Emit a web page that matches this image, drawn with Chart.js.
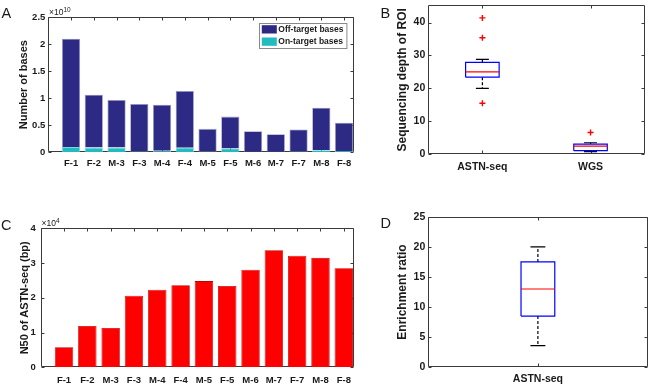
<!DOCTYPE html>
<html>
<head>
<meta charset="utf-8">
<script src="https://cdn.jsdelivr.net/npm/chart.js@4.4.1/dist/chart.umd.min.js"></script>
<style>
  body { margin: 0; background: #fff; width: 650px; height: 386px; position: relative; overflow: hidden;
         font-family: "Liberation Sans", Arial, sans-serif; color: #1a1a1a; }
  canvas { position: absolute; }
  .tag { position: absolute; font-size: 14.5px; line-height: 1; }
  .exp { position: absolute; font-size: 8.5px; line-height: 1; white-space: nowrap; }
  .exp span { font-size: 6.5px; position: relative; top: -3px; }
</style>
</head>
<body>
<canvas id="chartA" width="362" height="180" style="left:0;top:0"></canvas>
<canvas id="chartB" width="280" height="180" style="left:370px;top:0"></canvas>
<canvas id="chartC" width="362" height="191" style="left:0;top:195px"></canvas>
<canvas id="chartD" width="280" height="191" style="left:370px;top:195px"></canvas>

<div class="tag" style="left:1.5px;top:6.4px">A</div>
<div class="tag" style="left:380.5px;top:6.4px">B</div>
<div class="tag" style="left:1px;top:218px">C</div>
<div class="tag" style="left:380.5px;top:216px">D</div>
<div class="exp" style="left:49px;top:7.5px">×10<span>10</span></div>
<div class="exp" style="left:41.5px;top:218.5px">×10<span>4</span></div>

<script>
// samples, shared by A and C
var samples = ['F-1', 'F-2', 'M-3', 'F-3', 'M-4', 'F-4', 'M-5', 'F-5', 'M-6', 'M-7', 'F-7', 'M-8', 'F-8'];

// A: number of bases
var offTargetBases = [2.002e10, 0.977e10, 0.879e10, 0.878e10, 0.852e10, 1.049e10, 0.418e10,
                      0.590e10, 0.380e10, 0.324e10, 0.405e10, 0.785e10, 0.520e10];
var onTargetBases = [0.098e10, 0.087e10, 0.087e10, 0.015e10, 0.028e10, 0.083e10, 0.015e10,
                     0.070e10, 0.010e10, 0.010e10, 0.015e10, 0.040e10, 0.025e10];

// C: N50 of ASTN-seq (bp)
var n50 = [5760, 11900, 11300, 20600, 22350, 23600, 24800, 23400, 28100, 33700, 32100, 31500, 28500];

// B: sequencing depth of ROI (box stats)
var depthGroups = ['ASTN-seq', 'WGS'];
var depthLow = [20.0, 0.8];
var depthQ1 = [23.4, 1.1];
var depthMed = [25.0, 2.5];
var depthQ3 = [27.9, 3.1];
var depthHigh = [28.8, 3.5];
var depthOutliers = [[41.4, 35.4, 15.5], [6.6]];

// D: enrichment ratio
var ratioGroups = ['ASTN-seq'];
var ratioLow = [3.6];
var ratioQ1 = [8.5];
var ratioMed = [13.0];
var ratioQ3 = [17.5];
var ratioHigh = [20.0];
var ratioOutliers = [[]];

var axisColor = '#3a3a3a';
var textColor = '#1a1a1a';
var FONT = '"Liberation Sans", Arial, sans-serif';
var noGrid = { display: false, drawTicks: false, tickLength: 0 };

// matlab style box + inward ticks, drawn below the data
var frame = {
    id: 'frame',
    beforeDatasetsDraw(chart) {
        var ctx = chart.ctx, a = chart.chartArea;
        var x = chart.scales.x, y = chart.scales.y;
        var L = Math.round(a.left) + 0.5, R = Math.round(a.right) - 0.5;
        var T = Math.round(a.top) + 0.5, B = Math.round(a.bottom) - 0.5;
        ctx.save();
        ctx.strokeStyle = axisColor;
        ctx.lineWidth = 1;
        ctx.beginPath();
        ctx.rect(L, T, R - L, B - T);
        for (var i = 0; i < x.ticks.length; i++) {
            var px = Math.round(x.getPixelForTick(i)) + 0.5;
            ctx.moveTo(px, B); ctx.lineTo(px, B - 3);
            ctx.moveTo(px, T); ctx.lineTo(px, T + 3);
        }
        for (var j = 0; j < y.ticks.length; j++) {
            var py = Math.round(y.getPixelForTick(j)) + 0.5;
            ctx.moveTo(L, py); ctx.lineTo(L + 3, py);
            ctx.moveTo(R, py); ctx.lineTo(R - 3, py);
        }
        ctx.stroke();
        ctx.restore();
    }
};

// legend box inside panel A (top right)
var legendBox = {
    id: 'legendBox',
    afterDraw(chart) {
        var ctx = chart.ctx, a = chart.chartArea;
        var w = 87.4, h = 25;
        var left = a.right - 7.6 - w, top = a.top + 5.7;
        ctx.save();
        ctx.fillStyle = '#fff';
        ctx.fillRect(left, top, w, h);
        ctx.strokeStyle = '#8a8a8a';
        ctx.lineWidth = 1;
        ctx.strokeRect(Math.round(left) + 0.5, Math.round(top) + 0.5, w, h);
        var items = chart.data.datasets.slice().reverse();
        ctx.font = 'bold 8.5px ' + FONT;
        ctx.textBaseline = 'middle';
        for (var i = 0; i < items.length; i++) {
            var yy = top + 2.5 + i * 12.3;
            ctx.fillStyle = items[i].backgroundColor;
            ctx.fillRect(left + 2.5, yy, 15, 8.3);
            ctx.fillStyle = textColor;
            ctx.fillText(items[i].label, left + 19, yy + 4.4);
        }
        ctx.restore();
    }
};

function tickFont(size) {
    return { family: FONT, size: size, weight: 'bold' };
}

function sampleAxis(xHeight, pad) {
    return {
        type: 'linear', min: 0, max: 13.45, offset: false, stacked: true,
        grid: noGrid, border: { display: false },
        afterBuildTicks: function (s) { s.ticks = samples.map(function (c, i) { return { value: i + 1 }; }); },
        ticks: {
            autoSkip: false, maxRotation: 0, padding: pad, color: textColor, font: tickFont(9.5),
            callback: function (v) { return samples[v - 1]; }
        },
        afterFit: function (s) { s.height = xHeight; s.paddingLeft = 0; s.paddingRight = 0; }
    };
}

function xy(values) {
    return values.map(function (v, i) { return { x: i + 1, y: v }; });
}

// A
new Chart(document.getElementById('chartA'), {
    type: 'bar',
    data: {
        datasets: [
            { label: 'On-target bases', data: xy(onTargetBases), backgroundColor: '#22bcc0',
              borderColor: '#7fd6d8', borderWidth: 0.8, barPercentage: 0.8, categoryPercentage: 1 },
            { label: 'Off-target bases', data: xy(offTargetBases), backgroundColor: '#2d2a85',
              borderColor: '#9a98c8', borderWidth: 0.8, barPercentage: 0.8, categoryPercentage: 1 }
        ]
    },
    options: {
        responsive: false, animation: false, events: [],
        layout: { padding: { left: 17.1, top: 17, right: 7.7, bottom: 0 } },
        plugins: { legend: { display: false }, tooltip: { enabled: false } },
        scales: {
            x: sampleAxis(27.7, 5.5),
            y: {
                min: 0, max: 2.5e10, stacked: true,
                grid: noGrid, border: { display: false },
                ticks: { stepSize: 0.5e10, padding: 3, color: textColor, font: tickFont(9.5),
                         callback: function (v) { return +(v / 1e10).toFixed(2); } },
                title: { display: true, text: 'Number of bases', color: textColor,
                         font: tickFont(11), padding: 0 },
                afterFit: function (s) { s.width = 31.2; s.paddingTop = 0; s.paddingBottom = 0; }
            }
        }
    },
    plugins: [frame, legendBox]
});

// C
new Chart(document.getElementById('chartC'), {
    type: 'bar',
    data: {
        datasets: [
            { label: 'N50', data: xy(n50), backgroundColor: '#ff0000', borderColor: '#c40000',
              borderWidth: 0.8, barPercentage: 0.79, categoryPercentage: 1 }
        ]
    },
    options: {
        responsive: false, animation: false, events: [],
        layout: { padding: { left: 18.4, top: 33.3, right: 7.7, bottom: 0 } },
        plugins: { legend: { display: false }, tooltip: { enabled: false } },
        scales: {
            x: sampleAxis(18.7, 7),
            y: {
                min: 0, max: 40000,
                grid: noGrid, border: { display: false },
                ticks: { stepSize: 10000, padding: 5, color: textColor, font: tickFont(9.5),
                         callback: function (v) { return v / 10000; } },
                title: { display: true, text: 'N50 of ASTN-seq (bp)', color: textColor,
                         font: tickFont(11), padding: 0 },
                afterFit: function (s) { s.width = 22.3; s.paddingTop = 0; s.paddingBottom = 0; }
            }
        }
    },
    plugins: [frame]
});

// box plot pieces as line datasets
function seg(points, color, dash) {
    return { data: points, showLine: true, pointRadius: 0, borderColor: color, borderWidth: 1.2,
             borderDash: dash || [], fill: false, tension: 0 };
}

function boxSets(low, q1, med, q3, high, outliers, half, cap) {
    var sets = [];
    for (var i = 0; i < med.length; i++) {
        var x = i + 1;
        sets.push({ data: outliers[i].map(function (v) { return { x: x, y: v }; }), showLine: false,
                    pointStyle: 'cross', pointRadius: 3, borderColor: '#ff0000', backgroundColor: '#ff0000',
                    pointBorderWidth: 1.4 });
        sets.push(seg([{ x: x - half, y: med[i] }, { x: x + half, y: med[i] }], '#ff0000'));
        sets.push(seg([{ x: x - half, y: q1[i] }, { x: x + half, y: q1[i] }, { x: x + half, y: q3[i] },
                       { x: x - half, y: q3[i] }, { x: x - half, y: q1[i] }], '#0000ff'));
        sets.push(seg([{ x: x - cap, y: high[i] }, { x: x + cap, y: high[i] }], '#000000'));
        sets.push(seg([{ x: x - cap, y: low[i] }, { x: x + cap, y: low[i] }], '#000000'));
        sets.push(seg([{ x: x, y: q3[i] }, { x: x, y: high[i] }], '#000000', [3, 2]));
        sets.push(seg([{ x: x, y: q1[i] }, { x: x, y: low[i] }], '#000000', [3, 2]));
    }
    return sets;
}

function boxOptions(groups, yMax, step, title, pad, xHeight, xPad) {
    return {
        responsive: false, animation: false, events: [],
        layout: { padding: pad },
        plugins: { legend: { display: false }, tooltip: { enabled: false } },
        scales: {
            x: {
                type: 'linear', min: 0.5, max: groups.length + 0.5,
                grid: noGrid, border: { display: false },
                afterBuildTicks: function (s) { s.ticks = groups.map(function (g, i) { return { value: i + 1 }; }); },
                ticks: { autoSkip: false, maxRotation: 0, padding: xPad, color: textColor, font: tickFont(10.5),
                         callback: function (v) { return groups[v - 1]; } },
                afterFit: function (s) { s.height = xHeight; s.paddingLeft = 0; s.paddingRight = 0; }
            },
            y: {
                min: 0, max: yMax,
                grid: noGrid, border: { display: false },
                ticks: { stepSize: step, includeBounds: false, padding: 3, color: textColor, font: tickFont(10.5) },
                title: { display: true, text: title, color: textColor, font: tickFont(12), padding: 0 },
                afterFit: function (s) { s.width = 32.5; s.paddingTop = 0; s.paddingBottom = 0; }
            }
        }
    };
}

// B
new Chart(document.getElementById('chartB'), {
    type: 'scatter',
    data: { datasets: boxSets(depthLow, depthQ1, depthMed, depthQ3, depthHigh, depthOutliers, 0.155, 0.06) },
    options: boxOptions(depthGroups, 45.2, 10, 'Sequencing depth of ROI',
                        { left: 25.8, top: 3.3, right: 3, bottom: 0 }, 25.7, 7),
    plugins: [frame]
});

// D
new Chart(document.getElementById('chartD'), {
    type: 'scatter',
    data: { datasets: boxSets(ratioLow, ratioQ1, ratioMed, ratioQ3, ratioHigh, ratioOutliers, 0.077, 0.034) },
    options: boxOptions(ratioGroups, 25, 5, 'Enrichment ratio',
                        { left: 25.8, top: 21.7, right: 2.5, bottom: 0 }, 18.7, 6),
    plugins: [frame]
});
</script>
</body>
</html>
